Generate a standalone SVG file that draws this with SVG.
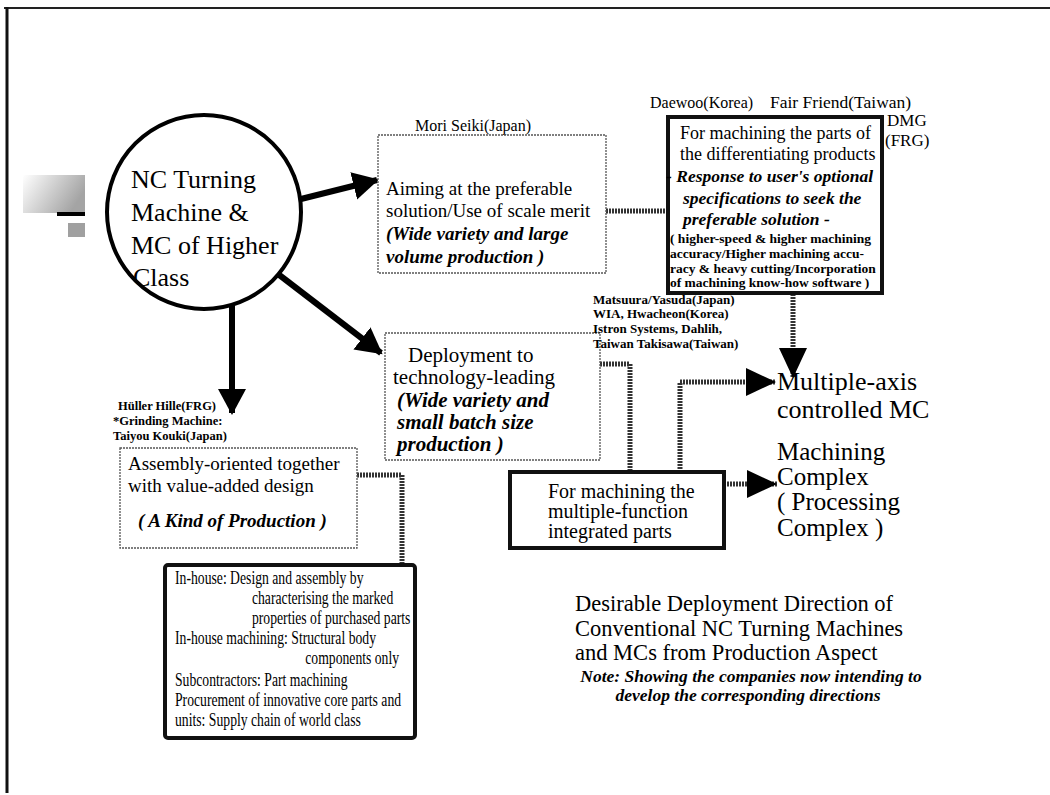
<svg xmlns="http://www.w3.org/2000/svg" width="1050" height="795" viewBox="0 0 1050 795">
<defs>
<linearGradient id="fade" x1="0" y1="0" x2="1" y2="0.4">
<stop offset="0" stop-color="#ffffff"/>
<stop offset="1" stop-color="#a4a4a4"/>
</linearGradient>
<marker id="bigHead" markerUnits="userSpaceOnUse" markerWidth="28" markerHeight="30" refX="24" refY="14" orient="auto">
<path d="M0,0 L26,14 L0,28 Z" fill="#000"/>
</marker>
<marker id="conHead" markerUnits="userSpaceOnUse" markerWidth="32" markerHeight="30" refX="30" refY="14" orient="auto">
<path d="M0,0 L30,14 L0,28 Z" fill="#000"/>
</marker>
</defs>
<style>
text{font-family:"Liberation Serif","Times New Roman",serif;fill:#000}
.bi{font-weight:bold;font-style:italic}
.b{font-weight:bold}
.thin{fill:#fff;stroke:#555;stroke-width:1.3;stroke-dasharray:2 1}
.thick{fill:#fff;stroke:#111;stroke-width:4}
.arrow{fill:none;stroke:#000;stroke-width:6}
.con{fill:none;stroke:#333;stroke-width:5;stroke-dasharray:2 1}
</style>
<rect width="1050" height="795" fill="#fff"/>
<g id="frame">
<line x1="4" y1="8" x2="1050" y2="8" stroke="#222" stroke-width="2"/>
<line x1="7" y1="7" x2="7" y2="793" stroke="#111" stroke-width="3"/>
<rect x="23" y="175" width="62" height="38" fill="url(#fade)"/>
<rect x="57" y="212" width="28" height="4" fill="#000"/>
<rect x="68" y="223" width="17" height="14" fill="#a0a0a0"/>
</g>
<g id="connectors">
<line class="arrow" x1="297" y1="200" x2="377" y2="180" marker-end="url(#bigHead)"/>
<line class="arrow" x1="278" y1="274" x2="381" y2="353" marker-end="url(#bigHead)"/>
<line class="arrow" x1="232" y1="304" x2="232" y2="413" marker-end="url(#bigHead)"/>
<line class="con" x1="606" y1="211" x2="668" y2="211"/>
<polyline class="con" points="793,294 793,378" marker-end="url(#conHead)"/>
<polyline class="con" points="600,364 630,364 630,472"/>
<polyline class="con" points="680,472 680,382 776,382" marker-end="url(#conHead)"/>
<polyline class="con" points="724,484 777,484" marker-end="url(#conHead)"/>
<polyline class="con" points="357,475 402,475 402,565"/>
</g>
<g id="node-nc">
<circle cx="204" cy="212" r="97" fill="#fff" stroke="#000" stroke-width="4"/>
<text x="131" y="188" font-size="26">NC Turning</text>
<text x="131" y="221" font-size="26">Machine &amp;</text>
<text x="131" y="254" font-size="26">MC of Higher</text>
<text x="133" y="286" font-size="26">Class</text>
</g>
<g id="node-scale">
<text x="415" y="131" font-size="16">Mori Seiki(Japan)</text>
<rect class="thin" x="378" y="135" width="228" height="138"/>
<text x="386" y="195" font-size="19">Aiming at the preferable</text>
<text x="386" y="217" font-size="19">solution/Use of scale merit</text>
<text x="386" y="240" font-size="19" class="bi">(Wide variety and large</text>
<text x="386" y="263" font-size="19" class="bi">volume production )</text>
</g>
<g id="node-diff">
<text x="650" y="108" font-size="16">Daewoo(Korea)</text>
<text x="770" y="108" font-size="17.5">Fair Friend(Taiwan)</text>
<text x="887" y="126" font-size="17">DMG</text>
<text x="885" y="146" font-size="17">(FRG)</text>
<rect class="thick" x="668" y="117" width="214" height="176"/>
<text x="680" y="139" font-size="18">For machining the parts of</text>
<text x="680" y="160" font-size="18">the differentiating products</text>
<text x="666" y="182" font-size="17.5" class="bi">- Response to user's optional</text>
<text x="683" y="204" font-size="17.5" class="bi">specifications to seek the</text>
<text x="683" y="225" font-size="17.5" class="bi">preferable solution -</text>
<text x="670" y="243" font-size="13.5" class="b">( higher-speed &amp; higher  machining</text>
<text x="670" y="258" font-size="13.5" class="b">accuracy/Higher machining accu-</text>
<text x="670" y="273" font-size="13.5" class="b">racy &amp; heavy cutting/Incorporation</text>
<text x="670" y="287" font-size="13.5" class="b">of machining know-how software )</text>
</g>
<g id="node-tech">
<rect class="thin" x="385" y="333" width="215" height="127"/>
<text x="408" y="362" font-size="21">Deployment to</text>
<text x="393" y="384" font-size="21">technology-leading</text>
<text x="397" y="407" font-size="21" class="bi">(Wide variety and</text>
<text x="397" y="429" font-size="21" class="bi">small batch size</text>
<text x="397" y="451" font-size="21" class="bi">production )</text>
<text x="593" y="304" font-size="13" class="b">Matsuura/Yasuda(Japan)</text>
<text x="593" y="318" font-size="13" class="b">WIA, Hwacheon(Korea)</text>
<text x="593" y="333" font-size="13" class="b">Istron Systems, Dahlih,</text>
<text x="593" y="348" font-size="13" class="b">Taiwan Takisawa(Taiwan)</text>
</g>
<g id="node-assembly">
<text x="118" y="410" font-size="12.5" class="b">Hüller Hille(FRG)</text>
<text x="113" y="425" font-size="12.5" class="b">*Grinding Machine:</text>
<text x="113" y="440" font-size="12.5" class="b">Taiyou Kouki(Japan)</text>
<rect class="thin" x="120" y="448" width="237" height="100"/>
<text x="128" y="470" font-size="19">Assembly-oriented together</text>
<text x="128" y="492" font-size="19">with value-added design</text>
<text x="138" y="527" font-size="19" class="bi">( A Kind of Production )</text>
</g>
<g id="node-multi">
<rect class="thick" x="510" y="472" width="214" height="76"/>
<text x="548" y="498" font-size="20">For machining the</text>
<text x="548" y="518" font-size="20">multiple-function</text>
<text x="548" y="538" font-size="20">integrated parts</text>
</g>
<g id="node-mc">
<text x="777" y="390" font-size="26">Multiple-axis</text>
<text x="777" y="418" font-size="26">controlled MC</text>
</g>
<g id="node-complex">
<text x="777" y="460" font-size="25">Machining</text>
<text x="777" y="485" font-size="25">Complex</text>
<text x="777" y="510" font-size="25">( Processing</text>
<text x="777" y="536" font-size="25">Complex )</text>
</g>
<g id="node-inhouse">
<rect class="thick" x="165" y="565" width="250" height="173" rx="3"/>
<g transform="matrix(0.74 0 0 1 175 0)">
<text x="0" y="584" font-size="18.5">In-house: Design and assembly by</text>
<text x="104" y="604" font-size="18.5">characterising the marked</text>
<text x="104" y="624" font-size="18.5">properties of purchased parts</text>
<text x="0" y="644" font-size="18.5">In-house machining: Structural body</text>
<text x="176" y="664" font-size="18.5">components only</text>
<text x="0" y="686" font-size="18.5">Subcontractors: Part machining</text>
<text x="0" y="706" font-size="18.5">Procurement of innovative core parts and</text>
<text x="0" y="726" font-size="18.5">units: Supply chain of world class</text>
</g>
</g>
<g id="title">
<text x="575" y="611" font-size="22.5">Desirable Deployment Direction of</text>
<text x="575" y="636" font-size="22.5">Conventional NC Turning Machines</text>
<text x="575" y="660" font-size="22.5">and MCs from Production Aspect</text>
<text x="751" y="682" font-size="17.5" class="bi" text-anchor="middle">Note: Showing the companies now intending to</text>
<text x="748" y="701" font-size="17.5" class="bi" text-anchor="middle">develop the corresponding directions</text>
</g>
</svg>
